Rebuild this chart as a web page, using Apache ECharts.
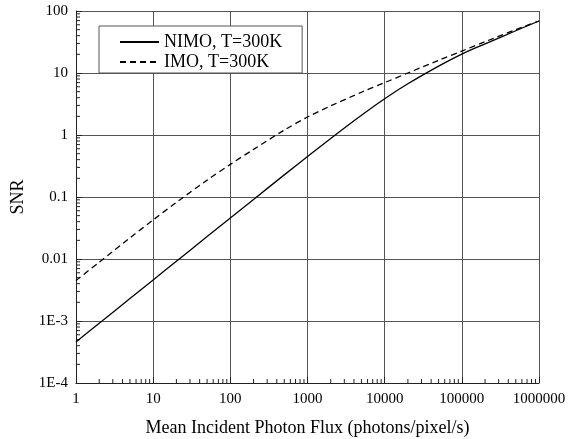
<!DOCTYPE html>
<html>
<head>
<meta charset="utf-8">
<script src="https://cdn.jsdelivr.net/npm/echarts@6/dist/echarts.min.js"></script>
<style>
html, body { margin: 0; padding: 0; background: #fff; }
#main { width: 568px; height: 439px; }
</style>
</head>
<body>
<div id="main"></div>
<script>
// photon flux samples (photons/pixel/s)
const flux = [1, 2, 5, 10, 20, 50, 100, 200, 500, 1000, 2000, 5000, 10000,
    20000, 50000, 100000, 200000, 500000, 1000000];
// SNR
const snrNimo = [4.6e-4, 9.2e-4, 2.3e-3, 4.6e-3, 9.2e-3, 0.023, 0.0459, 0.0915, 0.2275,
    0.45, 0.88, 2.08, 3.85, 6.7, 12.9, 20.2, 29.5, 48, 69];
const snrImo = [0.0045, 0.0089, 0.0219, 0.0427, 0.0818, 0.187, 0.336, 0.586, 1.2,
    1.95, 2.95, 4.89, 7.0, 10.0, 16.0, 22.6, 32.0, 50, 69];
const yLabels = { 0.0001: '1E-4', 0.001: '1E-3', 0.01: '0.01', 0.1: '0.1', 1: '1', 10: '10', 100: '100' };

const font = 'Liberation Serif, Times New Roman, serif';
const gridCol = '#555';

function pairs(xs, ys) {
    return xs.map(function (x, i) { return [x, ys[i]]; });
}

const chart = echarts.init(document.getElementById('main'));
const option = {
    animation: false,
    backgroundColor: '#fff',
    grid: { left: 76, right: 29, top: 11, bottom: 56, containLabel: false, outerBoundsMode: 'none' },
    legend: {
        orient: 'vertical',
        left: 99,
        top: 26,
        width: 194,
        itemWidth: 39,
        itemHeight: 14,
        itemGap: 0,
        padding: [6, 20, 1, 20],
        backgroundColor: '#fff',
        borderColor: gridCol,
        borderWidth: 1,
        borderRadius: 0,
        itemStyle: { opacity: 0 },
        textStyle: { fontFamily: font, fontSize: 18, lineHeight: 20, color: '#000' },
        data: ['NIMO, T=300K', 'IMO, T=300K']
    },
    xAxis: {
        type: 'log',
        logBase: 10,
        min: 1,
        max: 1000000,
        name: 'Mean Incident Photon Flux (photons/pixel/s)',
        nameLocation: 'middle',
        nameGap: 36,
        nameTextStyle: { fontFamily: font, fontSize: 18, color: '#000' },
        axisLine: { lineStyle: { color: '#222', width: 1 } },
        axisTick: { inside: true, length: 6, lineStyle: { color: '#222' } },
        axisLabel: {
            fontFamily: font, fontSize: 15, color: '#000', margin: 9,
            formatter: function (v) { return String(Math.round(v)); }
        },
        splitLine: { show: true, lineStyle: { color: gridCol, width: 1 } }
    },
    yAxis: {
        type: 'log',
        logBase: 10,
        min: 0.0001,
        max: 100,
        name: 'SNR',
        nameLocation: 'middle',
        nameGap: 49,
        nameTextStyle: { fontFamily: font, fontSize: 18, color: '#000' },
        axisLine: { lineStyle: { color: '#222', width: 1 } },
        axisTick: { inside: true, length: 6, lineStyle: { color: '#222' } },
        axisLabel: {
            fontFamily: font, fontSize: 15, color: '#000', margin: 8,
            formatter: function (v) {
                const key = Number(v.toPrecision(1));
                return yLabels[key] !== undefined ? yLabels[key] : '';
            }
        },
        splitLine: { show: true, lineStyle: { color: gridCol, width: 1 } }
    },
    series: [
        {
            name: 'NIMO, T=300K',
            type: 'line',
            symbol: 'none',
            smooth: 0.3,
            data: pairs(flux, snrNimo),
            lineStyle: { color: '#000', width: 1.3, type: 'solid' },
            itemStyle: { color: '#000' }
        },
        {
            name: 'IMO, T=300K',
            type: 'line',
            symbol: 'none',
            smooth: 0.3,
            data: pairs(flux, snrImo),
            lineStyle: { color: '#000', width: 1.3, type: [6, 4] },
            itemStyle: { color: '#000' }
        }
    ]
};
chart.setOption(option);

// minor ticks 2..9 in each decade, placed through the axis scales
function addMinorTicks() {
    const els = [];
    const x0 = chart.convertToPixel({ xAxisIndex: 0 }, 1);
    const yBottom = chart.convertToPixel({ yAxisIndex: 0 }, 0.0001);
    for (let k = 0; k < 6; k++) {
        for (let m = 2; m <= 9; m++) {
            const px = chart.convertToPixel({ xAxisIndex: 0 }, m * Math.pow(10, k));
            els.push({ type: 'line', shape: { x1: px, y1: yBottom, x2: px, y2: yBottom - 4 },
                style: { stroke: '#222', lineWidth: 1 }, silent: true });
        }
    }
    for (let k = -4; k < 2; k++) {
        for (let m = 2; m <= 9; m++) {
            const py = chart.convertToPixel({ yAxisIndex: 0 }, m * Math.pow(10, k));
            els.push({ type: 'line', shape: { x1: x0, y1: py, x2: x0 + 4, y2: py },
                style: { stroke: '#222', lineWidth: 1 }, silent: true });
        }
    }
    chart.setOption({ graphic: els });
}
addMinorTicks();
</script>
</body>
</html>
